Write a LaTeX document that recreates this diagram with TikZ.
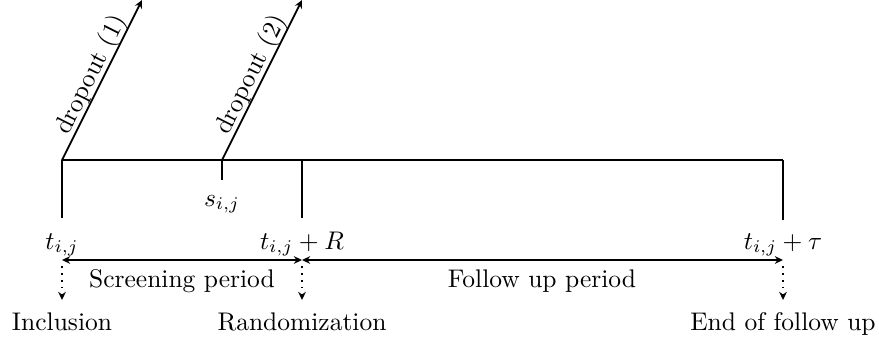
\documentclass[tikz,border=0pt]{standalone}
\usetikzlibrary{arrows.meta}
\begin{document}
\begin{tikzpicture}[x=0.3922pt,y=-0.3922pt,line width=0.7pt,
  >={Stealth[length=3.2pt,width=3pt]},
  lbl/.style={anchor=base,inner sep=0pt},
  droplbl/.style={pos=0.5,sloped,above=-0.8pt,inner sep=0pt}]
\useasboundingbox (0,0) rectangle (879,341);
% key points
\coordinate (A) at (62,160);
\coordinate (S) at (222,160);
\coordinate (B) at (302,160);
\coordinate (C) at (783,160);
\coordinate (Ab) at (62,218);
\coordinate (Sb) at (222,180);
\coordinate (Bb) at (302,218);
\coordinate (Cb) at (783,220);
\coordinate (D1) at (142,0);
\coordinate (D2) at (302,0);
% timeline
\draw (A) -- (C);
\draw (A) -- (Ab);
\draw (S) -- (Sb);
\draw (B) -- (Bb);
\draw (C) -- (Cb);
% dropouts
\draw[->] (A) -- (D1) node[droplbl] (d1) {dropout (1)};
\draw[->] (S) -- (D2) node[droplbl] (d2) {dropout (2)};
% labels
\node[lbl] (s) at (222,206) {$s_{i,j}$};
\node[lbl] (tA) at (62,249) {$t_{i,j}$};
\node[lbl] (tB) at (302,249) {$t_{i,j}+R$};
\node[lbl] (tC) at (783,249) {$t_{i,j}+\tau$};
% periods
\coordinate (P1) at (62,260);
\coordinate (P2) at (302,260);
\coordinate (P3) at (783,260);
\draw[<->] (P1) -- (P2);
\draw[<->] (P2) -- (P3);
\node[lbl] (scr) at (182,287) {Screening period};
\node[lbl] (fol) at (542,287) {Follow up period};
% events
\coordinate (E1) at (62,266);
\coordinate (E2) at (302,266);
\coordinate (E3) at (783,266);
\coordinate (F1) at (62,300);
\coordinate (F2) at (302,300);
\coordinate (F3) at (783,300);
\draw[->,dotted] (E1) -- (F1);
\draw[->,dotted] (E2) -- (F2);
\draw[->,dotted] (E3) -- (F3);
\node[lbl] (inc) at (62,330) {Inclusion};
\node[lbl] (ran) at (302,330) {Randomization};
\node[lbl] (end) at (783,330) {End of follow up};
\end{tikzpicture}
\end{document}
